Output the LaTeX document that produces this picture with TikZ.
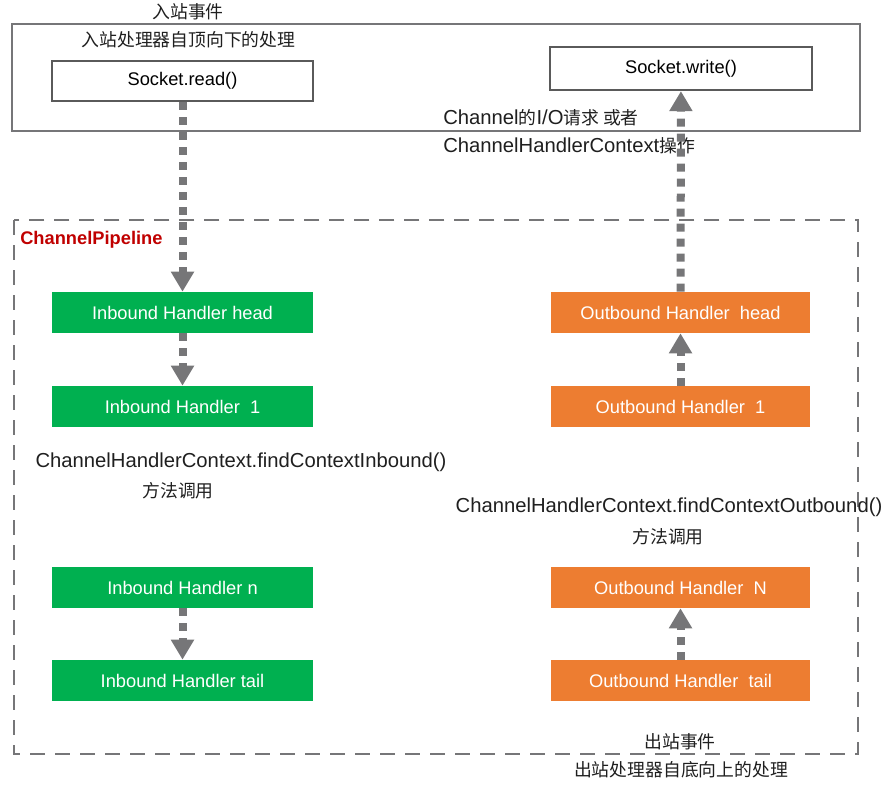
\documentclass[tikz,border=0pt]{standalone}
\usepackage{fontspec}
\setmainfont{Liberation Sans}
\newfontfamily\cjk[Scale=0.88]{Noto Sans CJK SC}
\usepackage{xcolor}
\usepackage{tikz}
\usetikzlibrary{arrows.meta,positioning}

\definecolor{inGreen}{RGB}{0,176,80}
\definecolor{outOrange}{RGB}{237,125,49}
\definecolor{lineGray}{RGB}{118,118,120}
\definecolor{sockGray}{RGB}{90,90,90}
\definecolor{pipeRed}{RGB}{192,0,0}

\begin{document}
\begin{tikzpicture}[
  x=0.025cm, y=-0.025cm,
  inbox/.style={fill=inGreen, text=white, minimum width=6.525cm, minimum height=1.025cm, inner sep=0pt, font=\fontsize{13}{15}\selectfont},
  outbox/.style={fill=outOrange, text=white, minimum width=6.475cm, minimum height=1.025cm, inner sep=0pt, font=\fontsize{13}{15}\selectfont},
  sockbox/.style={draw=sockGray, line width=1.6pt, fill=white, inner sep=0pt, font=\fontsize{13}{15}\selectfont},
  note/.style={inner sep=0pt, text=black!88, font=\fontsize{14.4}{17}\selectfont},
  flow/.style={draw=lineGray, line width=0.2cm, dash pattern=on 0.2cm off 0.175cm, -{Triangle[length=0.5cm,width=0.55cm]}}
]
\useasboundingbox (0,0) rectangle (892,787);

% frames
\draw[lineGray, line width=2pt] (12,24) rectangle (860,131);
\draw[lineGray, line width=2pt, dash pattern=on 0.375cm off 0.25cm] (14,220) rectangle (858,754);

% top labels
\node[note] (inevent) at (188,12) {\cjk 入站事件};
\node[note] (indir) at (188.5,40) {\cjk 入站处理器自顶向下的处理};
\node[sockbox, minimum width=6.525cm, minimum height=1.0cm] (read) at (182.5,81) {Socket.read()};
\node[sockbox, minimum width=6.55cm, minimum height=1.075cm] (write) at (681,68.5) {Socket.write()};
\node[note, anchor=west] (ioreq) at (443,118) {Channel{\cjk 的}I/O{\cjk 请求 或者}};
\node[note, anchor=west] (ctxop) at (443,146) {ChannelHandlerContext{\cjk 操作}};

\node[inner sep=0pt, anchor=west, text=pipeRed, font=\fontsize{13}{15}\selectfont\bfseries] (pipe) at (20,240) {ChannelPipeline};

% inbound handlers
\node[inbox] (ihead) at (182.5,312.5) {Inbound Handler head};
\node[inbox] (ione) at (182.5,406.5) {Inbound Handler\ \ 1};
\node[inbox] (in) at (182.5,587.5) {Inbound Handler n};
\node[inbox] (itail) at (182.5,680.5) {Inbound Handler tail};
\node[note] (findin) at (241,462) {ChannelHandlerContext.findContextInbound()};
\node[note] (callin) at (178,491) {\cjk 方法调用};

% outbound handlers
\node[outbox] (ohead) at (680.5,312.5) {Outbound Handler\ \ head};
\node[outbox] (oone) at (680.5,406.5) {Outbound Handler\ \ 1};
\node[outbox] (oN) at (680.5,587.5) {Outbound Handler\ \ N};
\node[outbox] (otail) at (680.5,680.5) {Outbound Handler\ \ tail};
\node[note] (findout) at (669,507) {ChannelHandlerContext.findContextOutbound()};
\node[note] (callout) at (668,537) {\cjk 方法调用};

\node[note] (outevent) at (680,742) {\cjk 出站事件};
\node[note] (outdir) at (681,770) {\cjk 出站处理器自底向上的处理};

% flows
\draw[flow] (read) -- (ihead);
\draw[flow] (ihead) -- (ione);
\draw[flow] (in) -- (itail);
\draw[flow] (otail) -- (oN);
\draw[flow] (oone) -- (ohead);
\draw[flow] (ohead) -- (write);
\end{tikzpicture}
\end{document}
